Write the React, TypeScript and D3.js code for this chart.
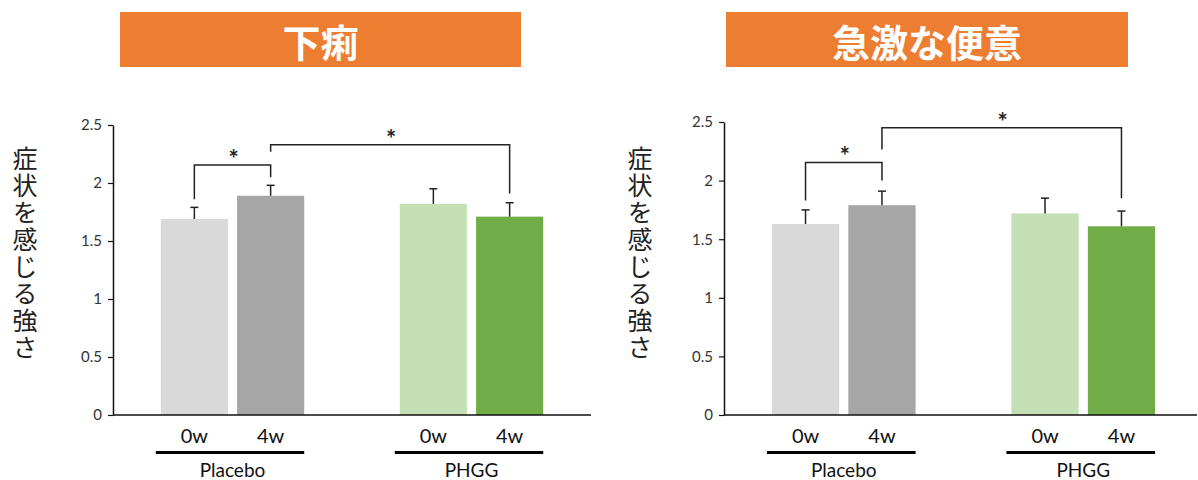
import { useEffect, useRef } from 'react';
import * as d3 from 'd3';

// --- data ---
const groups = ['Placebo', 'PHGG'];
const periods = ['0w', '4w'];
const yTicks = [0, 0.5, 1, 1.5, 2, 2.5];
const yLabel = '症状を感じる強さ';

const diarrheaTitle = '下痢';
const diarrheaMeans = [1.69, 1.89, 1.82, 1.71];
const diarrheaErrors = [0.1, 0.09, 0.13, 0.12];
// [fromBar, toBar, level, leftLegEnd, rightLegEnd]
const diarrheaBrackets = [
  [0, 1, 2.155, 1.86, 2.05],
  [1, 3, 2.33, 2.27, 1.91],
];

const urgencyTitle = '急激な便意';
const urgencyMeans = [1.63, 1.79, 1.72, 1.61];
const urgencyErrors = [0.12, 0.12, 0.13, 0.13];
const urgencyBrackets = [
  [0, 1, 2.155, 1.83, 2.0],
  [1, 3, 2.45, 2.265, 1.85],
];

const barColors = ['#D9D9D9', '#A6A6A6', '#C5E0B4', '#70AD47'];
const latin = 'Lato, "Open Sans", sans-serif';
const cjk = '"Noto Sans CJK JP", sans-serif';

const Panel = ({ svg, title, means, errors, brackets, box, axisX, axisEnd, bandEnd, yTop, labelX }) => {
  const g = svg.append('g');
  const y0 = 415;

  // title banner
  g.append('rect')
    .attr('x', box[0]).attr('y', 12)
    .attr('width', box[1] - box[0]).attr('height', 55)
    .attr('fill', '#ED7D31');
  g.append('text')
    .attr('x', (box[0] + box[1]) / 2).attr('y', 40)
    .attr('text-anchor', 'middle')
    .attr('dominant-baseline', 'central')
    .attr('font-family', cjk).attr('font-weight', 700).attr('font-size', 38)
    .attr('fill', '#fff')
    .text(title);

  // vertical y label
  g.append('text')
    .attr('x', labelX).attr('y', 146)
    .attr('font-family', cjk).attr('font-size', 25)
    .attr('letter-spacing', 2)
    .attr('fill', '#222')
    .style('writing-mode', 'vertical-rl')
    .text(yLabel);

  const y = d3.scaleLinear().domain([0, 2.5]).range([y0, yTop]);
  const xOuter = d3.scaleBand().domain(groups).range([axisX, bandEnd]).paddingInner(0.4).paddingOuter(0.2);
  const xInner = d3.scaleBand().domain(periods).range([0, xOuter.bandwidth()]).paddingInner(0.12);

  const bars = [];
  groups.forEach((grp, gi) => {
    periods.forEach((p, pi) => {
      const k = gi * 2 + pi;
      bars.push({
        grp, p, k,
        x: xOuter(grp) + xInner(p),
        w: xInner.bandwidth(),
        cx: xOuter(grp) + xInner(p) + xInner.bandwidth() / 2,
        v: means[k], e: errors[k],
      });
    });
  });

  g.selectAll('rect.bar').data(bars).enter().append('rect')
    .attr('class', 'bar')
    .attr('x', d => d.x).attr('width', d => d.w)
    .attr('y', d => y(d.v)).attr('height', d => y0 - y(d.v))
    .attr('fill', d => barColors[d.k]);

  // error bars
  const eb = g.append('g').attr('stroke', '#222').attr('stroke-width', 1.5);
  bars.forEach(d => {
    eb.append('line').attr('x1', d.cx).attr('x2', d.cx).attr('y1', y(d.v)).attr('y2', y(d.v + d.e));
    eb.append('line').attr('x1', d.cx - 4).attr('x2', d.cx + 4).attr('y1', y(d.v + d.e)).attr('y2', y(d.v + d.e));
  });

  // y axis
  const axis = g.append('g')
    .attr('transform', `translate(${axisX},0)`)
    .call(d3.axisLeft(y).tickValues(yTicks).tickSize(5).tickSizeOuter(0).tickPadding(6).tickFormat(d3.format('')));
  axis.select('.domain').attr('stroke', '#111').attr('stroke-width', 1.5);
  axis.selectAll('.tick line').attr('stroke', '#111').attr('stroke-width', 1.2);
  axis.selectAll('.tick text')
    .attr('font-family', latin).attr('font-size', 15).attr('fill', '#333');

  // x axis line
  g.append('line')
    .attr('x1', axisX).attr('x2', axisEnd).attr('y1', y0).attr('y2', y0)
    .attr('stroke', '#111').attr('stroke-width', 1.5);

  // period labels
  g.selectAll('text.period').data(bars).enter().append('text')
    .attr('class', 'period')
    .attr('x', d => d.cx).attr('y', 443)
    .attr('text-anchor', 'middle')
    .attr('font-family', latin).attr('font-size', 20).attr('fill', '#111')
    .text(d => d.p);

  // group underline + label
  groups.forEach(grp => {
    const x0 = xOuter(grp);
    g.append('line')
      .attr('x1', x0 - 5).attr('x2', x0 + xOuter.bandwidth())
      .attr('y1', 452.5).attr('y2', 452.5)
      .attr('stroke', '#000').attr('stroke-width', 3);
    g.append('text')
      .attr('x', x0 + xOuter.bandwidth() / 2).attr('y', 477)
      .attr('text-anchor', 'middle')
      .attr('font-family', latin).attr('font-size', 19).attr('fill', '#111')
      .text(grp);
  });

  // significance brackets
  const br = g.append('g');
  brackets.forEach(([a, b, level, la, lb]) => {
    const xa = bars[a].cx;
    const xb = bars[b].cx;
    br.append('path')
      .attr('d', `M${xa},${y(la)}V${y(level)}H${xb}V${y(lb)}`)
      .attr('fill', 'none').attr('stroke', '#222').attr('stroke-width', 1.5);
    br.append('text')
      .attr('x', (xa + xb) / 2 + 1).attr('y', y(level) + 3)
      .attr('text-anchor', 'middle')
      .attr('font-family', latin).attr('font-weight', 700).attr('font-size', 24).attr('fill', '#222')
      .text('*');
  });
};

const App = () => {
  const svgRef = useRef(null);

  useEffect(() => {
    const svg = d3.select(svgRef.current);
    svg.selectAll('*').remove();

    Panel({
      svg, title: diarrheaTitle, means: diarrheaMeans, errors: diarrheaErrors, brackets: diarrheaBrackets,
      box: [120, 521], axisX: 113, axisEnd: 591, bandEnd: 591, yTop: 125, labelX: 25,
    });
    Panel({
      svg, title: urgencyTitle, means: urgencyMeans, errors: urgencyErrors, brackets: urgencyBrackets,
      box: [726, 1128], axisX: 724, axisEnd: 1197, bandEnd: 1203, yTop: 122, labelX: 640,
    });
  }, []);

  return (
    <svg
      ref={svgRef}
      width={1198}
      height={480}
      style={{ position: 'absolute', left: 0, top: 0, background: '#fff' }}
    />
  );
};

export default App;
